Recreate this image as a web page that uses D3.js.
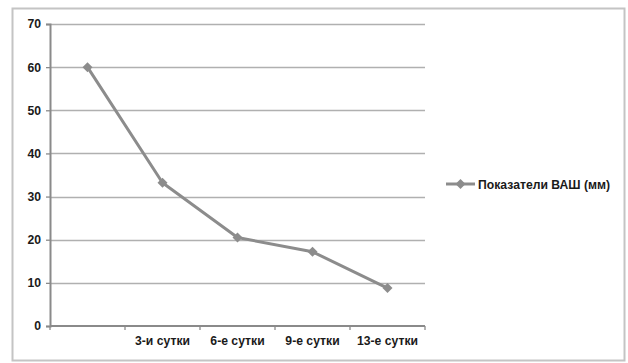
<!DOCTYPE html>
<html>
<head>
<meta charset="utf-8">
<script src="https://cdn.jsdelivr.net/npm/d3@7/dist/d3.min.js"></script>
<style>
  html, body { margin: 0; padding: 0; background: #fff; }
  svg { display: block; }
  text { font-family: "Liberation Sans", Arial, sans-serif; font-weight: bold; fill: #1a1a1a; }
</style>
</head>
<body>
<svg id="chart" width="628" height="363"></svg>
<script>
// Pain score (VAS, mm) by day of treatment
const categories = ["", "3-и сутки", "6-е сутки", "9-е сутки", "13-е сутки"];
const vasValues = [60, 33.2, 20.5, 17.2, 8.8];
const yTicks = [0, 10, 20, 30, 40, 50, 60, 70];
const seriesName = "Показатели ВАШ (мм)";

const svg = d3.select("#chart");
const lineColor = "#8c8c8c";
const fontSize = 12.2;

// outer frame
svg.append("rect")
  .attr("x", 12.5).attr("y", 8.5)
  .attr("width", 612).attr("height", 352)
  .attr("fill", "#fff").attr("stroke", "#c4c4c4").attr("stroke-width", 2);

const plot = { left: 50, right: 425, top: 24, bottom: 326 };

const x = d3.scaleBand().domain(categories.map((c, i) => i))
  .range([plot.left, plot.right]).paddingInner(0).paddingOuter(0);
const y = d3.scaleLinear().domain([0, 70]).range([plot.bottom, plot.top]);

// horizontal gridlines
svg.append("g").selectAll("line").data(yTicks.filter(t => t > 0)).join("line")
  .attr("x1", plot.left).attr("x2", plot.right)
  .attr("y1", d => Math.round(y(d)) + 0.5).attr("y2", d => Math.round(y(d)) + 0.5)
  .attr("stroke", "#b0b0b0").attr("stroke-width", 1.3);

// y axis
const yAxis = svg.append("g")
  .attr("transform", `translate(${plot.left},0)`)
  .call(d3.axisLeft(y).tickValues(yTicks).tickSize(4).tickPadding(5));
yAxis.select(".domain").attr("stroke", "#8a8a8a").attr("stroke-width", 2);
yAxis.selectAll(".tick line").attr("stroke", "#8a8a8a").attr("stroke-width", 1.3);
yAxis.selectAll(".tick text").attr("font-size", fontSize);

// x axis with ticks at category boundaries
const xg = svg.append("g").attr("transform", `translate(0,${plot.bottom})`);
xg.append("line").attr("x1", plot.left).attr("x2", plot.right)
  .attr("y1", 0).attr("y2", 0).attr("stroke", "#8a8a8a").attr("stroke-width", 2);
const bounds = categories.map((c, i) => x(i)).concat([x(categories.length - 1) + x.bandwidth()]);
xg.selectAll("line.tk").data(bounds).join("line").attr("class", "tk")
  .attr("x1", d => d).attr("x2", d => d).attr("y1", 0).attr("y2", 4)
  .attr("stroke", "#8a8a8a").attr("stroke-width", 1.3);
xg.selectAll("text").data(categories).join("text")
  .attr("x", (d, i) => x(i) + x.bandwidth() / 2)
  .attr("y", 19).attr("text-anchor", "middle").attr("font-size", fontSize)
  .text(d => d);

// series line
const line = d3.line().x((d, i) => x(i) + x.bandwidth() / 2).y(d => y(d));
svg.append("path").datum(vasValues)
  .attr("d", line).attr("fill", "none")
  .attr("stroke", lineColor).attr("stroke-width", 3).attr("stroke-linejoin", "round");

// diamond markers
svg.append("g").selectAll("path").data(vasValues).join("path")
  .attr("d", d3.symbol().type(d3.symbolSquare).size(50))
  .attr("transform", (d, i) => `translate(${x(i) + x.bandwidth() / 2},${y(d)}) rotate(45)`)
  .attr("fill", lineColor);

// legend
const lg = svg.append("g").attr("transform", "translate(446,184)");
lg.append("line").attr("x1", 0).attr("x2", 29).attr("y1", 0).attr("y2", 0)
  .attr("stroke", lineColor).attr("stroke-width", 3);
lg.append("path").attr("d", d3.symbol().type(d3.symbolSquare).size(50))
  .attr("transform", "translate(14.5,0) rotate(45)").attr("fill", lineColor);
lg.append("text").attr("x", 32).attr("y", 4.5).attr("font-size", fontSize).text(seriesName);
</script>
</body>
</html>
